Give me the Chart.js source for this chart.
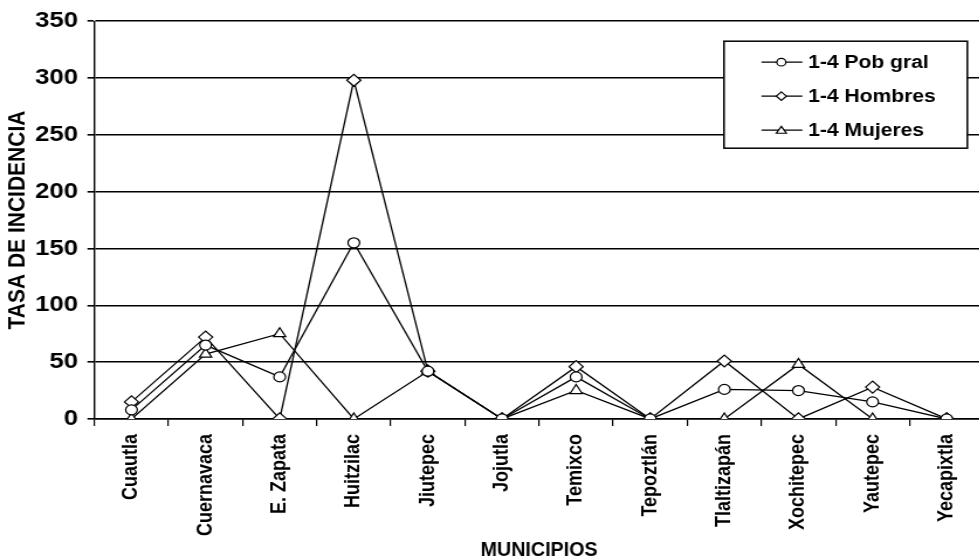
<!DOCTYPE html>
<html>
<head>
<meta charset="utf-8">
<script src="https://cdn.jsdelivr.net/npm/chart.js@4/dist/chart.umd.min.js"></script>
<style>
  html, body { margin: 0; padding: 0; background: #fff; overflow: hidden; }
  /* the drawing is widened horizontally, like the original wide-format figure */
  #wrap { width: 848px; height: 558px; transform: scaleX(1.17); transform-origin: 0 0; }
</style>
</head>
<body>
<div id="wrap"><canvas id="c" width="848" height="558"></canvas></div>
<script>
// Municipalities on the category axis
const municipios = ["Cuautla", "Cuernavaca", "E. Zapata", "Huitzilac", "Jiutepec", "Jojutla",
  "Temixco", "Tepoztlán", "Tlaltizapán", "Xochitepec", "Yautepec", "Yecapixtla"];

// Incidence rates, ages 1-4
const pobGral  = [8, 65, 37, 155, 42, 0, 37, 0, 26, 25, 15, 0];
const hombres  = [15, 72, 0, 298, 42, 0, 46, 0, 51, 0, 28, 0];
const mujeres  = [0, 57, 75, 0, 42, 0, 25, 0, 0, 48, 0, 0];

const seriesNames = ["1-4 Pob gral", "1-4 Hombres", "1-4 Mujeres"];
const yTicks = [0, 50, 100, 150, 200, 250, 300, 350];
const xTitle = "MUNICIPIOS";
const yTitle = "TASA DE INCIDENCIA";

const FONT = "'Liberation Sans', Arial, sans-serif";

function series(label, data, style) {
  return {
    label, data,
    borderColor: "#000", borderWidth: 1.3,
    pointStyle: style, pointRadius: style === "circle" ? 5 : 6, pointHoverRadius: 6,
    pointBackgroundColor: "#fff", pointBorderColor: "#000", pointBorderWidth: 1.2,
    tension: 0, fill: false
  };
}

function marker(ctx, style, mx, cy, r) {
  ctx.beginPath();
  if (style === "circle") {
    ctx.arc(mx, cy, r, 0, Math.PI * 2);
  } else if (style === "rectRot") {
    ctx.moveTo(mx, cy - r - 0.5); ctx.lineTo(mx + r + 0.5, cy);
    ctx.lineTo(mx, cy + r + 0.5); ctx.lineTo(mx - r - 0.5, cy); ctx.closePath();
  } else {
    ctx.moveTo(mx, cy - r); ctx.lineTo(mx + r + 0.5, cy + r * 0.8);
    ctx.lineTo(mx - r - 0.5, cy + r * 0.8); ctx.closePath();
  }
  ctx.fill(); ctx.stroke();
}

// Boxed legend in the upper right of the plot, plus the condensed x-axis title
const extras = {
  id: "extras",
  afterDraw(chart) {
    const { ctx, chartArea } = chart;
    const w = 208, h = 107;
    const x0 = chartArea.right - 14 - w, y0 = chartArea.top + 20;
    ctx.save();
    ctx.fillStyle = "#fff";
    ctx.fillRect(x0, y0, w, h);
    ctx.strokeStyle = "#000";
    ctx.lineWidth = 1.5;
    ctx.strokeRect(x0, y0, w, h);
    ctx.font = "bold 18px " + FONT;
    ctx.textBaseline = "middle";
    ctx.textAlign = "left";
    chart.data.datasets.forEach((ds, i) => {
      const cy = y0 + 21 + i * 34;
      ctx.lineWidth = 1.2;
      ctx.strokeStyle = "#000";
      ctx.beginPath(); ctx.moveTo(x0 + 32, cy); ctx.lineTo(x0 + 67, cy); ctx.stroke();
      ctx.fillStyle = "#fff";
      marker(ctx, ds.pointStyle, x0 + 49, cy, 3.8);
      ctx.fillStyle = "#000";
      ctx.fillText(ds.label, x0 + 72, cy + 1);
    });

    // x-axis title in a narrow face
    ctx.font = "bold 21px " + FONT;
    ctx.textAlign = "center";
    ctx.textBaseline = "alphabetic";
    ctx.translate((chartArea.left + chartArea.right) / 2, chart.height - 2);
    ctx.scale(0.8, 1);
    ctx.fillText(xTitle, 0, 0);
    ctx.restore();
  }
};

new Chart(document.getElementById("c"), {
  type: "line",
  data: {
    labels: municipios,
    datasets: [
      series(seriesNames[0], pobGral, "circle"),
      series(seriesNames[1], hombres, "rectRot"),
      series(seriesNames[2], mujeres, "triangle")
    ]
  },
  options: {
    responsive: false,
    animation: false,
    devicePixelRatio: 1,
    layout: { padding: { left: 0, top: 8, right: 0, bottom: 14 } },
    plugins: { legend: { display: false }, tooltip: { enabled: false } },
    scales: {
      x: {
        offset: true,
        grid: { offset: true, drawOnChartArea: false, drawTicks: true, tickLength: 7, color: "#000", lineWidth: 1.2 },
        border: { display: true, color: "#000", width: 1.6 },
        ticks: { autoSkip: false, minRotation: 90, maxRotation: 90, padding: 8, color: "#000",
                 font: { family: FONT, size: 18, weight: "bold" } }
      },
      y: {
        min: 0, max: 350,
        afterBuildTicks(axis) { axis.ticks = yTicks.map(v => ({ value: v })); },
        grid: { color: "#000", lineWidth: 1.6, tickLength: 6 },
        border: { display: true, color: "#000", width: 1.4 },
        ticks: { padding: 8, color: "#000", font: { family: FONT, size: 22, weight: "bold" } },
        title: { display: true, text: yTitle, color: "#000", padding: { top: 5, bottom: -4 },
                 font: { family: FONT, size: 21, weight: "bold", lineHeight: 1.0 } }
      }
    }
  },
  plugins: [extras]
});
</script>
</body>
</html>
